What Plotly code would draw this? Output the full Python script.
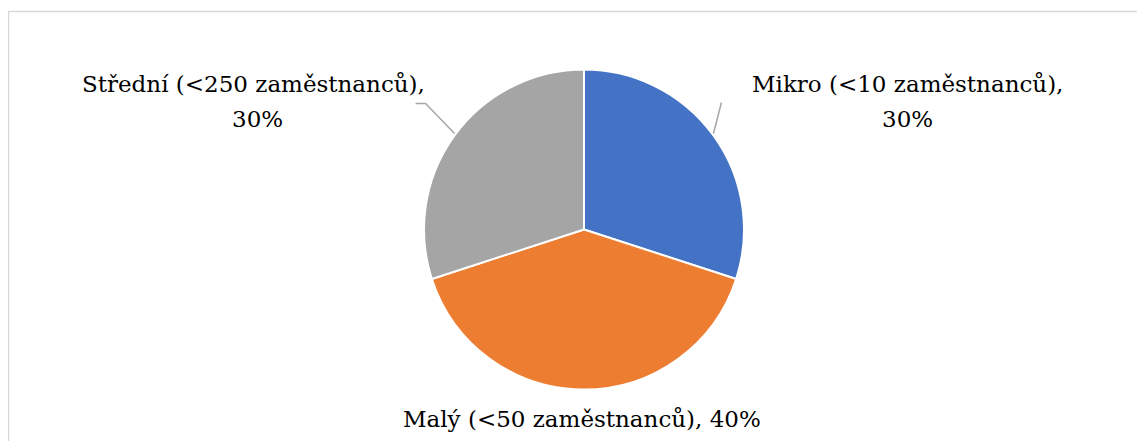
import math
import plotly.graph_objects as go

categories = ["Mikro (&lt;10 zaměstnanců)", "Malý (&lt;50 zaměstnanců)", "Střední (&lt;250 zaměstnanců)"]
values = [30, 40, 30]
colors = ["#4472C4", "#ED7D31", "#A5A5A5"]

OFF = 8  # page body margin
W, H = 1145 - OFF, 441 - OFF
CX, CY, R = 584, 229.5, 160  # pie centre / radius in window px

def px(x):
    return (x - OFF) / W

def py(y):
    return 1 - (y - OFF) / H

fig = go.Figure(go.Pie(
    labels=categories, values=values, sort=False, direction="clockwise", rotation=0,
    marker=dict(colors=colors, line=dict(color="white", width=2)),
    textinfo="none", hoverinfo="label+percent", showlegend=False,
    domain=dict(x=[px(CX - R), px(CX + R)], y=[py(CY + R), py(CY - R)]),
))

total = sum(values)
mids = []
acc = 0
for v in values:
    mids.append((acc + v / 2) / total * 360)
    acc += v

def edge(angle):
    a = math.radians(angle)
    return CX + R * math.sin(a), CY - R * math.cos(a)

font = dict(family="DejaVu Serif", size=23, color="black")
ann = []
shapes = []

# (line-1 centre x, line-2 centre x, first line y, two-line?)
label_pos = [(907, 907, 84, True), (582, 582, 419, False), (253, 257, 84, True)]
for i, (cat, v) in enumerate(zip(categories, values)):
    lx1, lx2, ly, two = label_pos[i]
    if two:
        lines = [(cat + ",", lx1), (f"{v}%", lx2)]
    else:
        lines = [(f"{cat}, {v}%", lx1)]
    for j, (t, lx) in enumerate(lines):
        ann.append(dict(x=px(lx), y=py(ly + 35 * j), xref="paper", yref="paper", text=t,
                        showarrow=False, font=font, xanchor="center", yanchor="middle"))

lc = dict(color="#A6A6A6", width=1.5)
ex, ey = edge(mids[0])
shapes.append(dict(type="line", xref="paper", yref="paper", x0=px(ex), y0=py(ey - 2),
                   x1=px(ex + 8), y1=py(ey - 33), line=lc))
ex, ey = edge(mids[2])
shapes.append(dict(type="path", xref="paper", yref="paper",
                   path=f"M {px(ex)} {py(ey - 2)} L {px(ex - 29)} {py(ey - 32)} L {px(ex - 39)} {py(ey - 32)}",
                   line=lc))
shapes.append(dict(type="rect", xref="paper", yref="paper", x0=px(8.5), y0=-0.05, x1=1.05, y1=py(11.5),
                   line=dict(color="#D9D9D9", width=1.5), fillcolor="rgba(0,0,0,0)"))

fig.update_layout(width=W, height=H, margin=dict(l=0, r=0, t=0, b=0),
                  paper_bgcolor="white", plot_bgcolor="white",
                  annotations=ann, shapes=shapes)
fig.write_html("out.html")
